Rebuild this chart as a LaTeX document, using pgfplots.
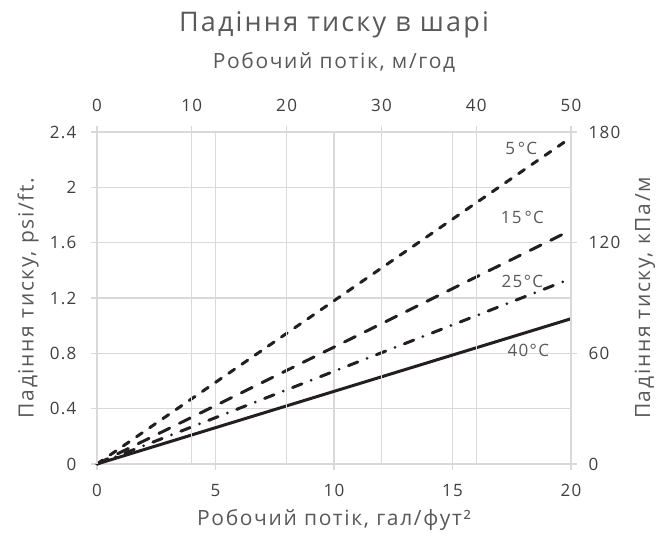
\documentclass[border=0pt]{standalone}
\usepackage{fontspec}
\setmainfont{Open Sans}[LetterSpace=8]
\usepackage{pgfplots}
\pgfplotsset{compat=1.18}
\definecolor{txt}{HTML}{595959}
\definecolor{tck}{HTML}{404040}
\definecolor{gridc}{HTML}{D9D9D9}
\definecolor{ln}{HTML}{231F20}

\pgfplotsset{
  common/.style={
    width=474pt, height=332pt, scale only axis,
    axis line style={gridc, line width=1.3pt},
    major tick style={gridc, line width=1.3pt},
    major tick length=6pt,
    tick align=outside,
    grid style={gridc, line width=1.3pt},
    tick label style={tck, font=\fontsize{17}{20}\selectfont},
    /pgf/number format/assume math mode=true,
  },
  curve/.style={ln, line width=3pt, line cap=round},
}

\begin{document}
\begin{tikzpicture}
\begin{axis}[
  common,
  xmin=0, xmax=20, ymin=0, ymax=2.4,
  xtick={0,5,10,15,20},
  ytick={0,0.4,0.8,1.2,1.6,2,2.4},
  xtick pos=bottom, ytick pos=left,
  xticklabel style={yshift=-11pt},
  yticklabel style={xshift=-11pt},
  xmajorgrids, ymajorgrids,
  clip=false,
]
\addplot[curve, dash pattern=on 7pt off 9pt] coordinates {(0,0) (10,1.18) (20,2.36)};
\addplot[curve, dash pattern=on 12pt off 11pt] coordinates {(0,0) (10,0.845) (20,1.69)};
\addplot[curve, dash pattern=on 10pt off 10pt on 0pt off 10pt] coordinates {(0,0) (10,0.67) (19.7,1.32)};
\addplot[ln, line width=3pt] coordinates {(0,0) (10,0.525) (20,1.05)};
\node[txt, font=\fontsize{17}{20}\selectfont] at (axis cs:17.9,2.28) {5\,°C};
\node[txt, font=\fontsize{17}{20}\selectfont] at (axis cs:17.95,1.78) {15\,°C};
\node[txt, font=\fontsize{17}{20}\selectfont] at (axis cs:17.95,1.32) {25°C};
\node[txt, font=\fontsize{17}{20}\selectfont] at (axis cs:18.2,0.82) {40°C};
\coordinate (o) at (rel axis cs:0,0);
\coordinate (t) at (rel axis cs:0.5,1);
\coordinate (b) at (rel axis cs:0.5,0);
\coordinate (l) at (rel axis cs:0,0.5);
\coordinate (r) at (rel axis cs:1,0.5);
\end{axis}
\begin{axis}[
  common,
  xmin=0, xmax=50, ymin=0, ymax=180,
  xtick={0,10,20,30,40,50},
  ytick={0,60,120,180},
  xtick pos=top, ytick pos=right,
  xticklabel pos=top, yticklabel pos=right,
  xticklabel style={yshift=11pt},
  yticklabel style={xshift=8pt},
  xmajorgrids,
  axis line style={draw=none},
]
\end{axis}
\node[txt, font=\fontsize{27}{32}\selectfont] at ([yshift=107pt]t) {Падіння тиску в шарі};
\node[txt, font=\fontsize{21}{25}\selectfont] at ([yshift=70pt]t) {Робочий потік, м/год};
\node[txt, font=\fontsize{21}{25}\selectfont] at ([yshift=-56pt]b) {Робочий потік, гал/фут²};
\node[txt, font=\fontsize{21}{25}\selectfont, rotate=90] at ([xshift=-69pt]l) {Падіння тиску, psi/ft.};
\node[txt, font=\fontsize{21}{25}\selectfont, rotate=90] at ([xshift=74pt]r) {Падіння тиску, кПа/м};
\path ([xshift=-97pt,yshift=-73pt]o) rectangle ++(659pt,537pt);
\end{tikzpicture}
\end{document}
